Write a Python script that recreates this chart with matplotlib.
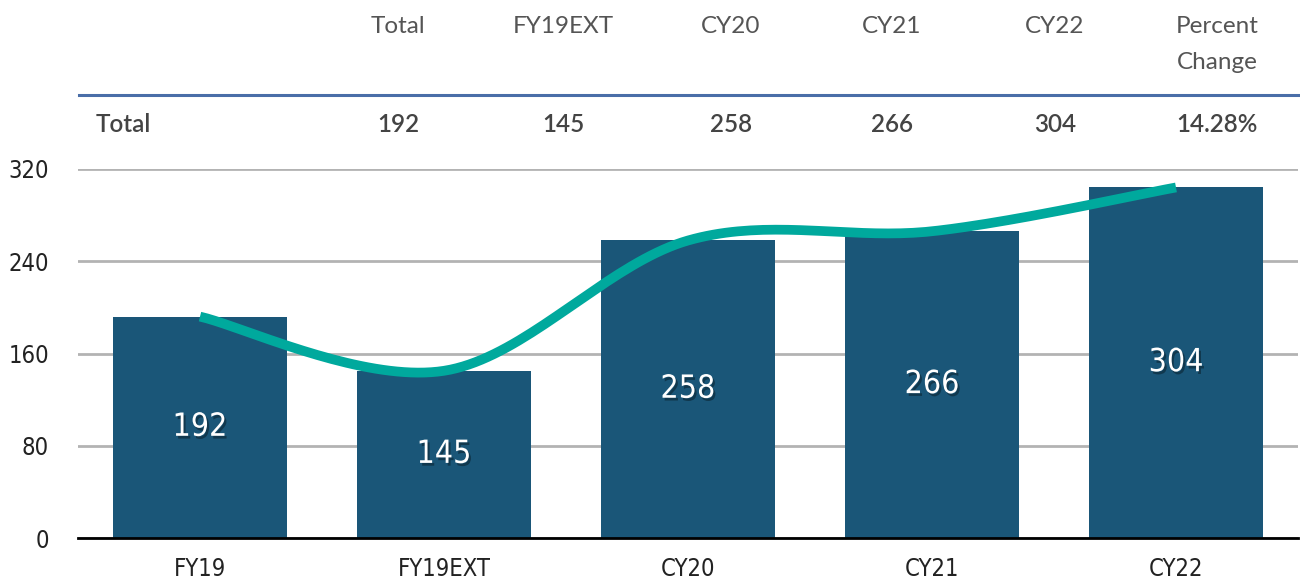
import matplotlib
matplotlib.use("Agg")
import matplotlib.pyplot as plt
import matplotlib.patheffects as pe
import numpy as np

categories = ["FY19", "FY19EXT", "CY20", "CY21", "CY22"]
values = [192, 145, 258, 266, 304]
table_headers = ["Total", "FY19EXT", "CY20", "CY21", "CY22", "Percent\nChange"]
table_row = ["192", "145", "258", "266", "304", "14.28%"]
row_label = "Total"
yticks = [0, 80, 160, 240, 320]

bar_color = "#1a5678"
line_color = "#00a99d"
text_gray = "#444444"
plt.rcParams["font.family"] = ["Lato", "DejaVu Sans"]
narrow = dict(family="DejaVu Sans", stretch="condensed")


def smooth(xs, ys, n=40):
    # Bezier smoothing similar to office "smoothed line"
    xs = np.asarray(xs, float)
    ys = np.asarray(ys, float)
    px, py = [], []
    for i in range(len(xs) - 1):
        x0, y0 = xs[max(i - 1, 0)], ys[max(i - 1, 0)]
        x1, y1 = xs[i], ys[i]
        x2, y2 = xs[i + 1], ys[i + 1]
        x3, y3 = xs[min(i + 2, len(xs) - 1)], ys[min(i + 2, len(ys) - 1)]
        c1 = (x1 + (x2 - x0) / 6, y1 + (y2 - y0) / 6)
        c2 = (x2 - (x3 - x1) / 6, y2 - (y3 - y1) / 6)
        t = np.linspace(0, 1, n)
        bx = (1 - t) ** 3 * x1 + 3 * (1 - t) ** 2 * t * c1[0] + 3 * (1 - t) * t ** 2 * c2[0] + t ** 3 * x2
        by = (1 - t) ** 3 * y1 + 3 * (1 - t) ** 2 * t * c1[1] + 3 * (1 - t) * t ** 2 * c2[1] + t ** 3 * y2
        px.extend(bx)
        py.extend(by)
    return px, py


fig = plt.figure(figsize=(13, 5.84), dpi=100)
ax = fig.add_axes([78 / 1300, 1 - 538 / 584, 1220 / 1300, (538 - 169) / 584])

x = np.arange(len(categories))
bars = ax.bar(x, values, width=0.715, color=bar_color, zorder=2)
for b, v in zip(bars, values):
    ax.text(b.get_x() + b.get_width() / 2, v / 2, str(v), ha="center", va="center",
            color="white", fontsize=23, zorder=4, **narrow,
            path_effects=[pe.withSimplePatchShadow(offset=(1.5, -2), shadow_rgbFace="black", alpha=0.35)])

lx, ly = smooth(x, values)
ax.plot(lx, ly, color=line_color, lw=7, solid_capstyle="butt", zorder=3, clip_on=False)

ax.set_xlim(-0.5, len(categories) - 0.5)
ax.set_ylim(0, 320)
ax.set_yticks(yticks)
ax.set_yticklabels([str(t) for t in yticks], fontsize=17, color="#222222", **narrow)
ax.set_xticks(x)
ax.set_xticklabels(categories, fontsize=17, color="#222222", **narrow)
ax.tick_params(length=0)
ax.tick_params(axis="x", pad=14)
ax.tick_params(axis="y", pad=21)
ax.grid(axis="y", color="#b3b3b3", lw=2, zorder=0)
for s in ["top", "right", "left"]:
    ax.spines[s].set_visible(False)
ax.spines["bottom"].set_color("black")
ax.spines["bottom"].set_linewidth(2)
ax.spines["bottom"].set_zorder(5)

# table above chart
col_x = [398, 563, 731, 892, 1055, 1217]
for cx, h, r in zip(col_x, table_headers, table_row):
    fig.text(cx / 1300, 1 - 16 / 584, h, ha="center", va="top", fontsize=17.5,
             color="#555555", linespacing=1.9)
    fig.text(cx / 1300, 1 - 125 / 584, r, ha="center", va="center", fontsize=17.5,
             color=text_gray, fontweight="semibold")
fig.text(96 / 1300, 1 - 125 / 584, row_label, ha="left", va="center", fontsize=17.5,
         color=text_gray, fontweight="semibold")
fig.add_artist(plt.Line2D([79 / 1300, 1], [1 - 95 / 584] * 2, color="#4a6ea8", lw=2.2))

fig.savefig("out.png", dpi=100)
